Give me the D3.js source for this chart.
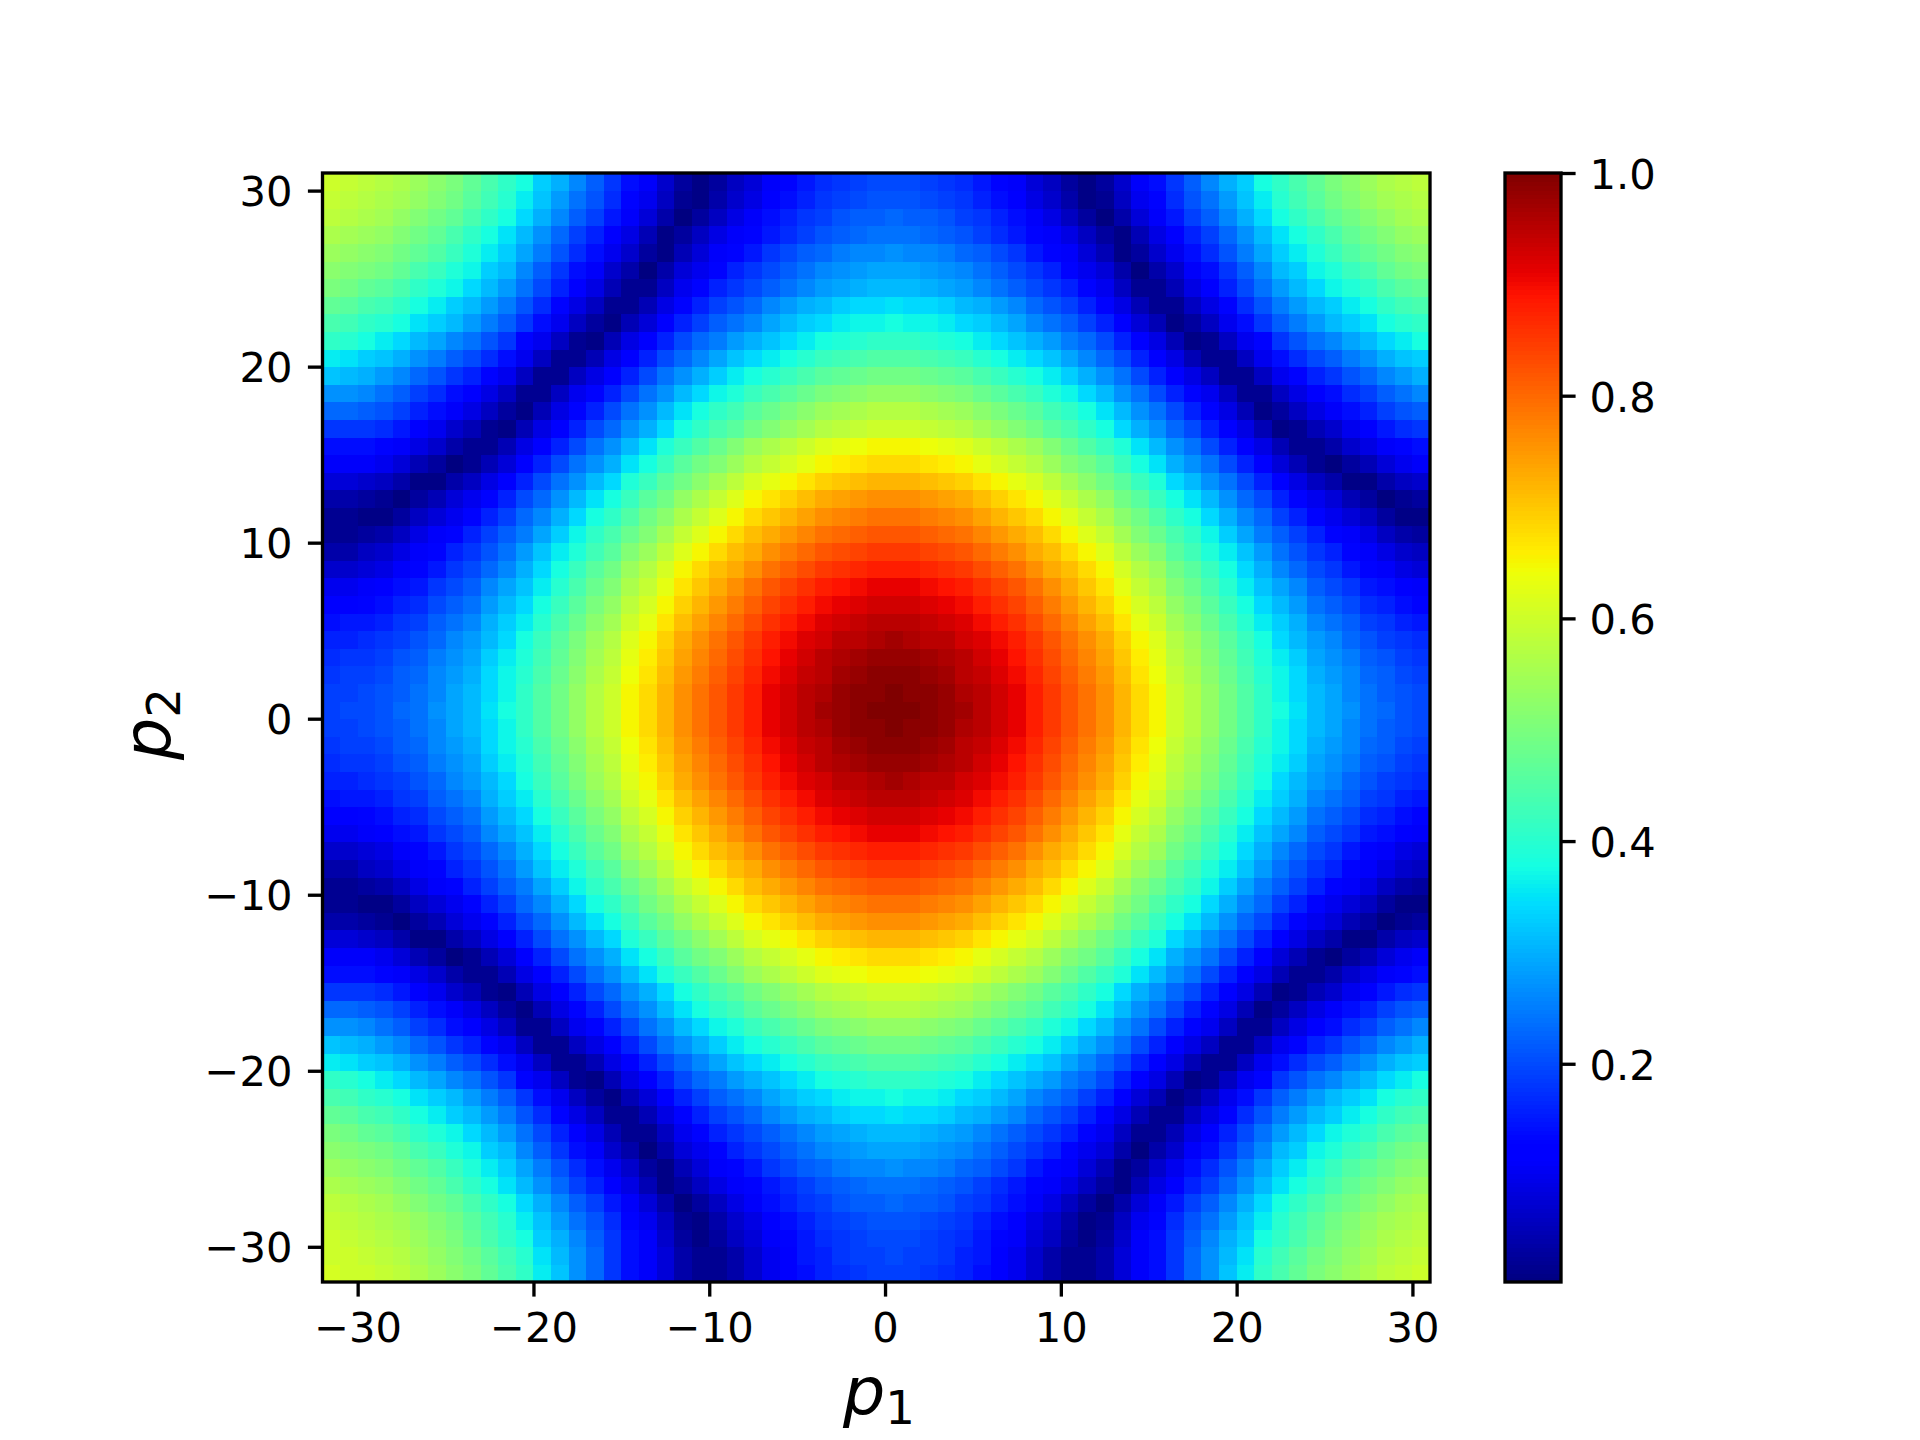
<!DOCTYPE html>
<html>
<head>
<meta charset="utf-8">
<script src="https://d3js.org/d3.v7.min.js"></script>
<style>
html,body{margin:0;padding:0;background:#fff}
svg{display:block}
text{font-family:"DejaVu Sans";fill:#000}
</style>
</head>
<body>
<svg id="c" width="1920" height="1440"></svg>
<script>
// Estimated cell values in percent.
// Row index = |p2|, column index = |p1| (picture is mirror symmetric about its peak cell).
const quadrant = [
[100,100,99,98,97,95,93,91,88,85,82,79,76,72,68,65,60,57,53,49,45,41,38,35,31,29,27,24,23,21,20,20,19],
[100,99,99,98,96,95,93,91,88,85,82,79,76,72,68,65,60,57,53,49,45,41,37,34,31,29,26,24,22,21,20,19,19],
[99,99,98,97,95,94,92,90,87,84,81,78,75,71,67,64,59,56,52,48,44,40,37,34,30,28,26,23,22,20,19,19,18],
[98,98,97,96,95,93,91,89,86,83,80,77,74,70,66,63,58,55,51,47,43,39,36,33,29,27,25,22,21,19,18,18,17],
[97,96,95,95,93,92,90,88,85,82,79,76,73,69,65,62,57,54,50,46,42,38,34,31,28,26,23,21,19,18,17,16,16],
[95,95,94,93,92,90,88,86,83,80,77,74,71,67,63,60,55,52,48,44,40,36,33,30,26,24,22,19,18,16,15,15,14],
[93,93,92,91,90,88,86,84,81,78,75,72,69,65,61,58,53,50,46,42,38,34,31,28,24,22,20,17,16,14,13,12,12],
[91,91,90,89,88,86,84,82,79,76,73,70,67,63,59,56,51,48,44,40,36,32,29,26,22,20,18,15,14,12,11,10,10],
[88,88,87,86,85,83,81,79,76,73,71,68,65,61,57,54,49,46,42,38,34,30,26,23,20,18,15,13,11,9,8,7,7],
[85,85,84,83,82,80,78,76,73,71,68,65,62,58,54,51,46,43,39,36,32,28,24,21,18,16,13,11,9,7,6,4,4],
[82,82,81,80,79,77,75,73,71,68,65,62,59,55,51,48,44,41,37,33,29,25,22,19,16,13,11,9,6,4,3,2,2],
[79,79,78,77,76,74,72,70,68,65,62,59,56,52,49,45,41,38,34,30,26,23,19,16,13,10,8,6,3,1,1,2,2],
[76,76,75,74,73,71,69,67,65,62,59,56,53,49,46,42,38,35,31,27,23,20,16,13,10,8,5,3,0,2,3,4,4],
[72,72,71,70,69,67,65,63,61,58,55,52,49,46,42,39,34,31,27,24,20,16,12,9,6,4,1,1,4,6,7,8,8],
[68,68,67,66,65,63,61,59,57,54,51,49,46,42,38,35,30,27,24,20,16,12,8,5,2,0,3,5,8,10,11,11,11],
[65,65,64,63,62,60,58,56,54,51,48,45,42,39,35,31,27,24,20,16,12,9,5,2,2,4,7,9,11,13,14,14,14],
[60,60,59,58,57,55,53,51,49,46,44,41,38,34,30,27,23,20,16,12,9,5,1,2,5,7,10,12,15,17,18,18,18],
[57,57,56,55,54,52,50,48,46,43,41,38,35,31,27,24,20,16,13,9,5,1,3,6,9,11,14,16,19,21,22,23,23],
[53,53,52,51,50,48,46,44,42,39,37,34,31,27,24,20,16,13,10,6,2,2,6,9,12,14,17,19,22,24,26,27,27],
[49,49,48,47,46,44,42,40,38,36,33,30,27,24,20,16,12,9,6,2,2,6,10,13,16,18,21,23,26,28,30,31,32],
[45,45,44,43,42,40,38,36,34,32,29,26,23,20,16,12,9,5,2,2,6,10,14,17,20,22,25,27,30,32,33,35,36],
[41,41,40,39,38,36,34,32,30,28,25,23,20,16,12,9,5,1,2,6,10,13,18,21,24,26,29,31,34,36,38,40,41],
[38,37,37,36,34,33,31,29,26,24,22,19,16,12,8,5,1,3,6,10,14,18,22,25,28,31,33,35,38,40,41,43,44],
[35,34,34,33,31,30,28,26,23,21,19,16,13,9,5,2,2,6,9,13,17,21,25,28,31,33,36,38,41,43,44,46,47],
[31,31,30,29,28,26,24,22,20,18,16,13,10,6,2,2,5,9,12,16,20,24,28,31,34,37,39,41,44,46,47,49,50],
[29,29,28,27,26,24,22,20,18,16,13,10,8,4,0,4,7,11,14,18,22,26,31,33,37,39,42,44,47,49,50,51,52],
[27,26,26,25,23,22,20,18,15,13,11,8,5,1,3,7,10,14,17,21,25,29,33,36,39,42,45,47,49,51,52,53,54],
[24,24,23,22,21,19,17,15,13,11,9,6,3,1,5,9,12,16,19,23,27,31,35,38,41,44,47,49,51,53,54,55,56],
[23,22,22,21,19,18,16,14,11,9,6,3,0,4,8,11,15,19,22,26,30,34,38,41,44,47,49,51,53,55,56,57,58],
[21,21,20,19,18,16,14,12,9,7,4,1,2,6,10,13,17,21,24,28,32,36,40,43,46,49,51,53,55,56,57,58,59],
[20,20,19,18,17,15,13,11,8,6,3,1,3,7,11,14,18,22,26,30,33,38,41,44,47,50,52,54,56,57,58,59,60],
[20,19,19,18,16,15,12,10,7,4,2,2,4,8,11,14,18,23,27,31,35,40,43,46,49,51,53,55,57,58,59,60,60],
[19,19,18,17,16,14,12,10,7,4,2,2,4,8,11,14,18,23,27,32,36,41,44,47,50,52,54,56,58,59,60,60,61]
];
const xTickValues = [-30,-20,-10,0,10,20,30];
const yTickValues = [-30,-20,-10,0,10,20,30];
const colorbarTickValues = [0.2,0.4,0.6,0.8,1.0];
const colorMin = 0.004, colorMax = 1.0;
const p1Values = d3.range(-32,31);
const p2Values = d3.range(-32,31);

// jet colormap
const redS = d3.scaleLinear().domain([0,0.35,0.66,0.89,1]).range([0,0,1,1,0.5]).clamp(true);
const greenS = d3.scaleLinear().domain([0,0.125,0.375,0.64,0.91,1]).range([0,0,1,1,0,0]).clamp(true);
const blueS = d3.scaleLinear().domain([0,0.11,0.34,0.65,1]).range([0.5,1,1,0,0]).clamp(true);
const norm = d3.scaleLinear().domain([colorMin,colorMax]).range([0,1]).clamp(true);
const jet = v => { const t = norm(v);
  return d3.rgb(redS(t)*255, greenS(t)*255, blueS(t)*255).formatRgb(); };

const svg = d3.select('#c');
const L=322.5,R=1430,T=173,B=1282, SW=3.33, TL=14.6, PAD=15.5, FS=41.67;
const x = d3.scaleLinear().domain([-32,31]).range([L,R]);
const y = d3.scaleLinear().domain([-32,31]).range([B,T]);

const cells = [];
p2Values.forEach(p2 => p1Values.forEach(p1 => {
  cells.push({p1,p2,v:quadrant[Math.abs(p2)][Math.abs(p1)]/100});
}));
svg.append('g').attr('shape-rendering','crispEdges').selectAll('rect').data(cells).join('rect')
  .attr('x',d=>x(d.p1)).attr('y',d=>y(d.p2+1))
  .attr('width',d=>x(d.p1+1)-x(d.p1)+0.5).attr('height',d=>y(d.p2)-y(d.p2+1)+0.5)
  .attr('fill',d=>jet(d.v));

function styleAxis(g){
  g.select('.domain').remove();
  g.selectAll('.tick line').attr('stroke','#000').attr('stroke-width',SW);
  g.selectAll('.tick text').attr('font-size',FS).attr('font-family','DejaVu Sans').attr('fill','#000');
}
svg.append('g').attr('transform',`translate(0,${B})`)
  .call(d3.axisBottom(x).tickValues(xTickValues).tickSize(TL).tickPadding(PAD).tickFormat(d3.format('d')))
  .call(styleAxis);
svg.append('g').attr('transform',`translate(${L},0)`)
  .call(d3.axisLeft(y).tickValues(yTickValues).tickSize(TL).tickPadding(PAD).tickFormat(d3.format('d')))
  .call(styleAxis).call(g=>g.selectAll('.tick text').attr('dy','.355em'));
svg.append('rect').attr('x',L).attr('y',T).attr('width',R-L).attr('height',B-T)
  .attr('fill','none').attr('stroke','#000').attr('stroke-width',SW);

// colorbar
const CL=1505,CR=1561;
const cy = d3.scaleLinear().domain([colorMin,colorMax]).range([B,T]);
const steps = d3.range(256).map(i=>colorMin+(colorMax-colorMin)*i/256);
const stepH = (colorMax-colorMin)/256;
svg.append('g').attr('shape-rendering','crispEdges').selectAll('rect').data(steps).join('rect')
  .attr('x',CL).attr('width',CR-CL)
  .attr('y',d=>cy(d+stepH)).attr('height',d=>cy(d)-cy(d+stepH)+0.5)
  .attr('fill',d=>jet(d+stepH/2));
svg.append('g').attr('transform',`translate(${CR},0)`)
  .call(d3.axisRight(cy).tickValues(colorbarTickValues).tickSize(TL).tickPadding(13.8).tickFormat(d3.format('.1f')))
  .call(styleAxis).call(g=>g.selectAll('.tick text').attr('dy','.37em'));
svg.append('rect').attr('x',CL).attr('y',T).attr('width',CR-CL).attr('height',B-T)
  .attr('fill','none').attr('stroke','#000').attr('stroke-width',SW);

// axis labels
function mathLabel(sel,name,sub){
  sel.attr('font-size',66.7).attr('text-anchor','middle').attr('font-family','DejaVu Sans');
  sel.append('tspan').attr('font-style','italic').text(name);
  sel.append('tspan').attr('font-size',46.7).attr('dy',10).text(sub);
}
svg.append('text').attr('x',879).attr('y',1414).call(mathLabel,'p','1');
svg.append('text').attr('transform','translate(170,724) rotate(-90)').call(mathLabel,'p','2');
</script>
</body>
</html>
